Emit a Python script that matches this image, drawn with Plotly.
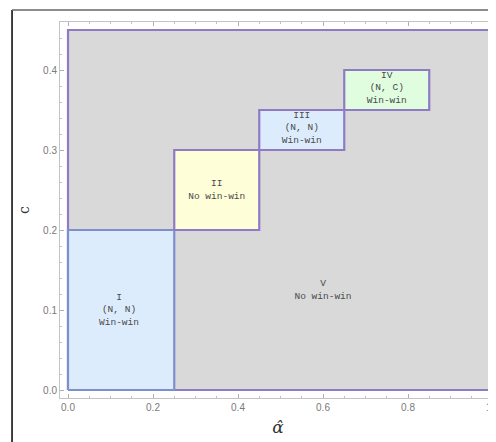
import plotly.graph_objects as go

# Region data
region_names = ["V", "I", "II", "III", "IV"]
x_lo = [0.0, 0.0, 0.25, 0.45, 0.65]
x_hi = [1.0, 0.25, 0.45, 0.65, 0.85]
y_lo = [0.0, 0.0, 0.2, 0.3, 0.35]
y_hi = [0.45, 0.2, 0.3, 0.35, 0.4]
region_labels = [
    "V<br>No win-win",
    "I<br>(N, N)<br>Win-win",
    "II<br>No win-win",
    "III<br>(N, N)<br>Win-win",
    "IV<br>(N, C)<br>Win-win",
]
label_x = [0.6, 0.12, 0.35, 0.55, 0.75]
label_y = [0.125, 0.1, 0.25, 0.3275, 0.3775]

fill_colors = ["#d9d9d9", "#dcecfd", "#fefed8", "#dcecfd", "#e0fde0"]
edge_colors = ["#8f7bc4", "#7f8fcc", "#8f7bc4", "#8f7bc4", "#8f7bc4"]

x_ticks = [0.0, 0.2, 0.4, 0.6, 0.8, 1.0]
y_ticks = [0.0, 0.1, 0.2, 0.3, 0.4]

fig = go.Figure()
for i in range(len(region_names)):
    fig.add_trace(go.Scatter(
        x=[x_lo[i], x_hi[i], x_hi[i], x_lo[i], x_lo[i]],
        y=[y_lo[i], y_lo[i], y_hi[i], y_hi[i], y_lo[i]],
        mode="lines", fill="toself", fillcolor=fill_colors[i],
        line=dict(color=edge_colors[i], width=2.2),
        hoverinfo="skip", showlegend=False,
    ))

fig.add_trace(go.Scatter(
    x=label_x, y=label_y, mode="text", text=region_labels,
    textfont=dict(family="Liberation Mono", size=9.5, color="#4a4a4a"),
    hoverinfo="skip", showlegend=False,
))

axis_common = dict(
    showgrid=False, zeroline=False, showline=True, linecolor="#c4c4c4",
    linewidth=1, ticks="inside", ticklen=4, tickcolor="#b0b0b0",
    tickfont=dict(family="Liberation Sans", size=10, color="#7a7a7a"),
    ticklabeloverflow="allow",
)

fig.update_layout(
    width=488, height=434,
    margin=dict(l=52, r=0, t=14, b=44),
    paper_bgcolor="white", plot_bgcolor="white",
    xaxis=dict(
        range=[-0.01882, 1.00706], tickvals=x_ticks,
        ticktext=[f"{v:.1f}" for v in x_ticks], mirror="ticks",
        automargin=False,
        minor=dict(dtick=0.05, tick0=0, ticks="inside", ticklen=2, tickcolor="#c0c0c0"),
        title=dict(text="<i>α̂</i>", font=dict(family="DejaVu Serif", size=17, color="#333"), standoff=9),
        **axis_common,
    ),
    yaxis=dict(
        range=[-0.01, 0.46], tickvals=y_ticks,
        ticktext=[f"{v:.1f}" for v in y_ticks], mirror=False,
        automargin=False,
        minor=dict(dtick=0.02, tick0=0, ticks="inside", ticklen=2, tickcolor="#c0c0c0"),
        title=dict(text="c", font=dict(family="DejaVu Serif", size=14, color="#333"), standoff=10),
        **axis_common,
    ),
    shapes=[
        dict(type="line", xref="paper", yref="paper", x0=-0.110, x1=-0.110, y0=-0.2, y1=1.032,
             line=dict(color="black", width=1.5)),
        dict(type="line", xref="paper", yref="paper", x0=-0.110, x1=1.05, y0=1.032, y1=1.032,
             line=dict(color="#666666", width=1.5)),
    ],
)

fig.write_html("out.html")
